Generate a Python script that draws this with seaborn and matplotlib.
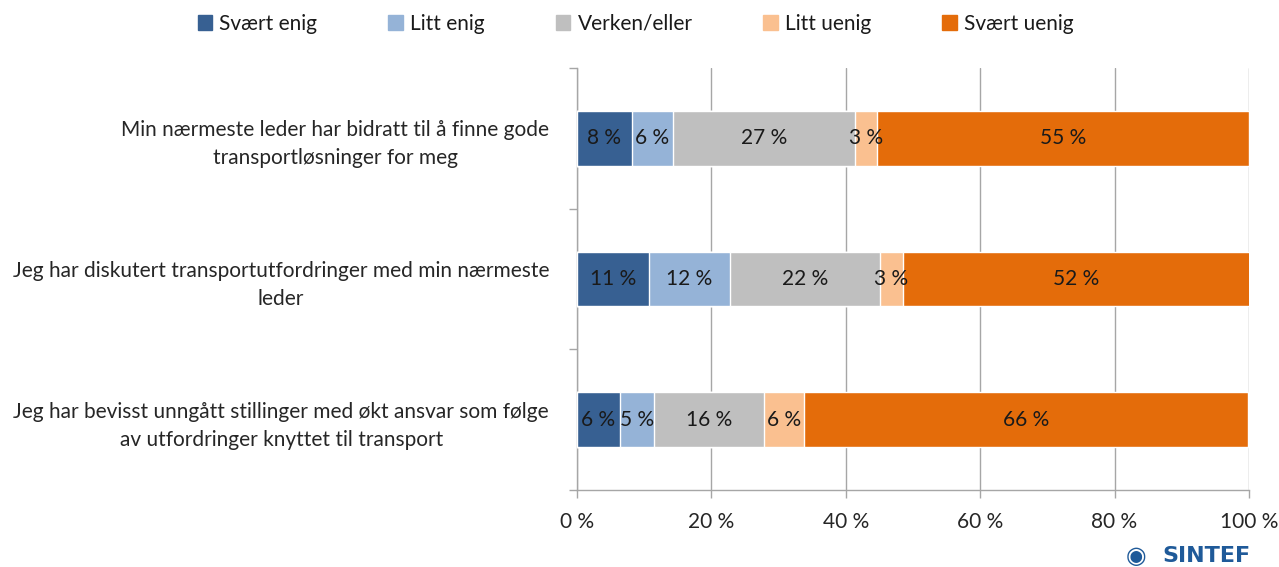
import matplotlib.pyplot as plt
import matplotlib.patches as mpatches
import pandas as pd
import seaborn as sns

# data (percent)
statements = [
    "Min nærmeste leder har bidratt til å finne gode\ntransportløsninger for meg",
    "Jeg har diskutert transportutfordringer med min nærmeste\nleder",
    "Jeg har bevisst unngått stillinger med økt ansvar som følge\nav utfordringer knyttet til transport",
]
categories = ["Svært enig", "Litt enig", "Verken/eller", "Litt uenig", "Svært uenig"]
svaert_enig = [8.2, 10.7, 6.4]
litt_enig = [6.1, 12.1, 5.1]
verken = [27.1, 22.3, 16.4]
litt_uenig = [3.2, 3.4, 5.9]
svaert_uenig = [55.4, 51.6, 66.1]
colors = ["#376092", "#95B3D7", "#BFBFBF", "#FAC090", "#E46C0A"]

df = pd.DataFrame(
    {
        "statement": statements,
        categories[0]: svaert_enig,
        categories[1]: litt_enig,
        categories[2]: verken,
        categories[3]: litt_uenig,
        categories[4]: svaert_uenig,
    }
)
cum = df[categories].cumsum(axis=1)
cum["statement"] = df["statement"]

sns.set_theme(style="white")
plt.rcParams["font.family"] = ["Lato", "DejaVu Sans"]
plt.rcParams["text.color"] = "#1a1a1a"

FS = 15

fig = plt.figure(figsize=(12.79, 5.67), dpi=100)
ax = fig.add_axes([0.451, 0.136, 0.5255, 0.744])

# stacked bars: draw cumulative totals from the outermost segment inward
for cat, col in reversed(list(zip(categories, colors))):
    sns.barplot(
        data=cum, x=cat, y="statement", color=col, width=0.39,
        saturation=1, ax=ax, orient="h", zorder=3,
    )

# segment labels
for i, row in df.iterrows():
    start = 0
    for cat in categories:
        v = row[cat]
        ax.text(start + v / 2, i, f"{v:.0f} %", ha="center", va="center",
                fontsize=FS, color="#1a1a1a", zorder=4)
        start += v

ax.set_xlim(0, 100)
ax.set_ylim(2.5, -0.5)
ax.set_xticks([0, 20, 40, 60, 80, 100])
ax.set_xticklabels([f"{t} %" for t in [0, 20, 40, 60, 80, 100]], fontsize=FS)
ax.set_yticks([0, 1, 2])
ax.set_yticklabels(statements, fontsize=FS, multialignment="center", linespacing=1.5)
ax.set_yticks([-0.5, 0.5, 1.5, 2.5], minor=True)
ax.tick_params(axis="y", which="major", length=0, pad=20)
ax.tick_params(axis="y", which="minor", length=6, color="#A6A6A6", width=1, direction="out", left=True)
ax.tick_params(axis="x", length=6, color="#A6A6A6", width=1, direction="out", bottom=True, pad=10)
ax.set_xlabel("")
ax.set_ylabel("")

ax.grid(axis="x", color="#A6A6A6", linewidth=1, zorder=0)
ax.grid(axis="y", visible=False)
for s in ["top", "right"]:
    ax.spines[s].set_visible(False)
for s in ["left", "bottom"]:
    ax.spines[s].set_color("#A6A6A6")
    ax.spines[s].set_linewidth(1)

handles = [mpatches.Patch(color=c, label=l) for c, l in zip(colors, categories)]
fig.legend(handles=handles, loc="center", bbox_to_anchor=(0.497, 0.958), ncol=5,
           frameon=False, fontsize=FS, handlelength=0.7, handleheight=0.7,
           handletextpad=0.35, columnspacing=3.4)

fig.text(0.978, 0.019, "SINTEF", ha="right", va="center", fontsize=16,
         fontweight="bold", color="#1F5A99", family=["DejaVu Sans"])
fig.text(0.888, 0.019, "◉", ha="center", va="center", fontsize=17,
         fontweight="bold", color="#1F5A99", family=["DejaVu Sans"])

fig.savefig("out.png", dpi=100)
